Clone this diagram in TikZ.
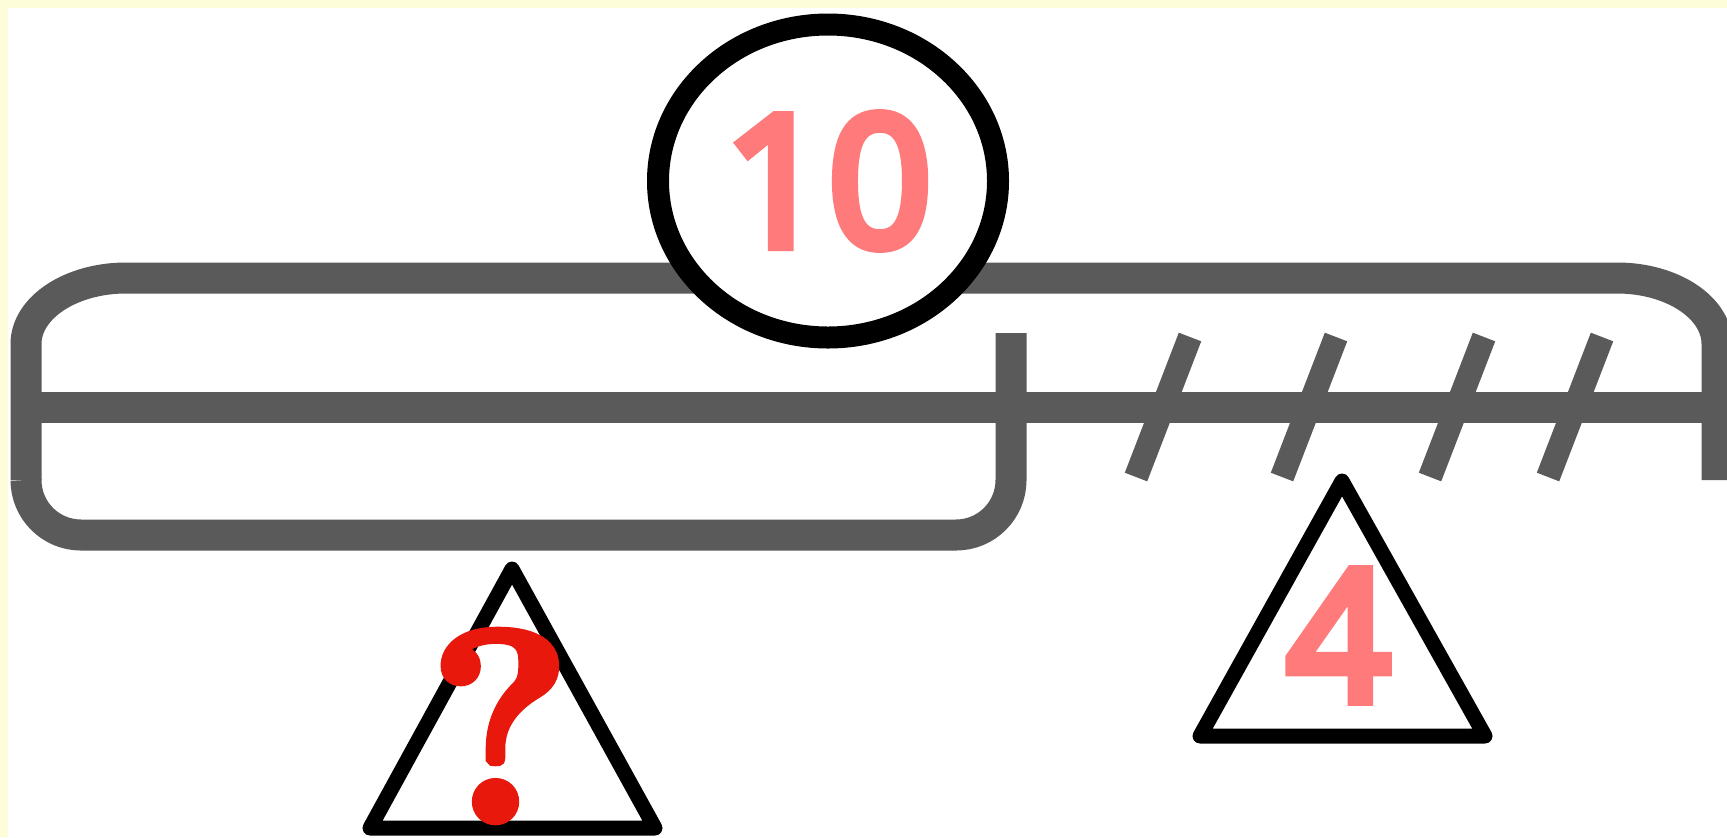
\documentclass[tikz,border=0pt]{standalone}
\usepackage{fontspec}
\setmainfont{Noto Sans}
\newfontfamily\numfont{Noto Sans}[FakeBold=5.5]
\newfontfamily\qfont{Latin Modern Roman}[BoldFeatures={FakeBold=3}]
\usetikzlibrary{shapes.geometric}
\definecolor{bargray}{RGB}{90,90,90}
\definecolor{salmon}{RGB}{255,122,122}
\definecolor{qred}{RGB}{232,24,12}
\definecolor{paper}{RGB}{253,253,218}
\begin{document}
\begin{tikzpicture}[x=0.5pt,y=-0.5pt,
  bar/.style={draw=bargray,line width=15.5pt},
  slash/.style={draw=bargray,line width=12pt},
  tri/.style={draw=black,line width=7.5pt,line join=round,fill=white},
  numtext/.style={text=salmon,inner sep=0pt,font=\numfont\fontsize{91}{91}\selectfont}]
\useasboundingbox (0,0) rectangle (1727,837);
\clip (0,0) rectangle (1727,837);
\fill[white] (0,0) rectangle (1727,837);
\fill[paper] (0,0) rectangle (1727,8);
\fill[paper] (0,0) rectangle (8,837);
% named points
\coordinate (lend) at (26,480);
\coordinate (rend) at (1717,480);
\coordinate (mid) at (1011,333);
\coordinate (lineL) at (26,407);
\coordinate (lineR) at (1740,407);
% top brace (whole)
\draw[bar] (lend) -- (26,344) .. controls (26,307.6) and (70.8,278) .. (126,278)
  -- (1617,278) .. controls (1672.2,278) and (1717,307.6) .. (1717,344) -- (rend);
% main line
\draw[bar] (lineL) -- (lineR);
% bottom brace (part)
\draw[bar] (lend) .. controls (26,510.4) and (50.6,535) .. (81,535)
  -- (956,535) .. controls (986.4,535) and (1011,510.4) .. (1011,480) -- (mid);
% slashes
\foreach \i/\xb/\xt in {1/1136/1190,2/1282/1336,3/1430/1484,4/1548/1602}{
  \coordinate (sb\i) at (\xb,477);
  \coordinate (st\i) at (\xt,337);
  \draw[slash] (sb\i) -- (st\i);
}
% whole
\node[ellipse,draw=black,line width=11pt,fill=white,minimum width=170pt,
  minimum height=156.5pt,inner sep=0pt,numtext] (whole) at (828,181) {10};
% triangles
\coordinate (qa) at (512,569);
\coordinate (qb) at (370,828);
\coordinate (qc) at (655,828);
\draw[tri] (qa) -- (qb) -- (qc) -- cycle;
\coordinate (ka) at (1342,481);
\coordinate (kb) at (1200,736);
\coordinate (kc) at (1485,736);
\draw[tri] (ka) -- (kb) -- (kc) -- cycle;
\node[numtext] (four) at (1338.5,635.5) {4};
\node[text=qred,inner sep=0pt,font=\qfont\bfseries\fontsize{136}{136}\selectfont] (unknown) at (500,726) {?};
\end{tikzpicture}
\end{document}
